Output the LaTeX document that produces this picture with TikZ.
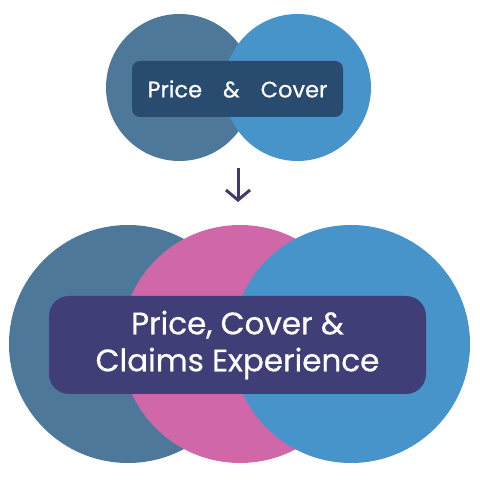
\documentclass[tikz,border=0pt]{standalone}
\usepackage{fontspec}
\setmainfont{Poppins}
\newfontfamily\boxfont{Poppins}[FakeBold=0.6]
\usetikzlibrary{arrows.meta,positioning}
\definecolor{slateblue}{HTML}{4D7899}
\definecolor{skyblue}{HTML}{4794CB}
\definecolor{rosepink}{HTML}{CF67A8}
\definecolor{navybox}{HTML}{2A4B70}
\definecolor{indigobox}{HTML}{3F3E77}
\definecolor{arrowink}{HTML}{3E3B72}
\begin{document}
\begin{tikzpicture}[
  x=1pt,y=1pt,
  ring/.style={
    circle,
    inner sep=0pt,
    minimum size=#1
  },
  label box/.style={
    rounded corners=#1,
    inner sep=0pt,
    text=white,
    align=center
  },
  flow/.style={-{Straight Barb[length=10pt,width=24pt]},line width=3pt,arrowink}
]
\useasboundingbox (0,0) rectangle (479,481);
% top pair
\node[ring=147pt,fill=slateblue] (pricering) at (179.5,393.5) {};
\node[ring=147pt,fill=skyblue] (coverring) at (297.5,393.5) {};
\node[label box=8pt,fill=navybox,minimum width=211pt,minimum height=56pt,
  font=\boxfont\fontsize{22.5}{26}\selectfont] (pairbox) at (237.5,392)
  {Price\hspace{21pt}\&\hspace{21pt}Cover};
% step down
\coordinate (flowstart) at (238,313);
\coordinate (flowend) at (238,279);
\draw[flow] (flowstart) -- (flowend);
% bottom trio
\node[ring=238pt,fill=slateblue] (priceball) at (128,137) {};
\node[ring=238pt,fill=rosepink] (claimsball) at (240,137) {};
\node[ring=238pt,fill=skyblue] (coverball) at (351,137) {};
\node[label box=20pt,fill=indigobox,minimum width=377pt,minimum height=98pt,
  font=\boxfont\fontsize{31}{37}\selectfont] (triobox) at (237.5,136)
  {Price, Cover \&\\Claims Experience};
\end{tikzpicture}
\end{document}
